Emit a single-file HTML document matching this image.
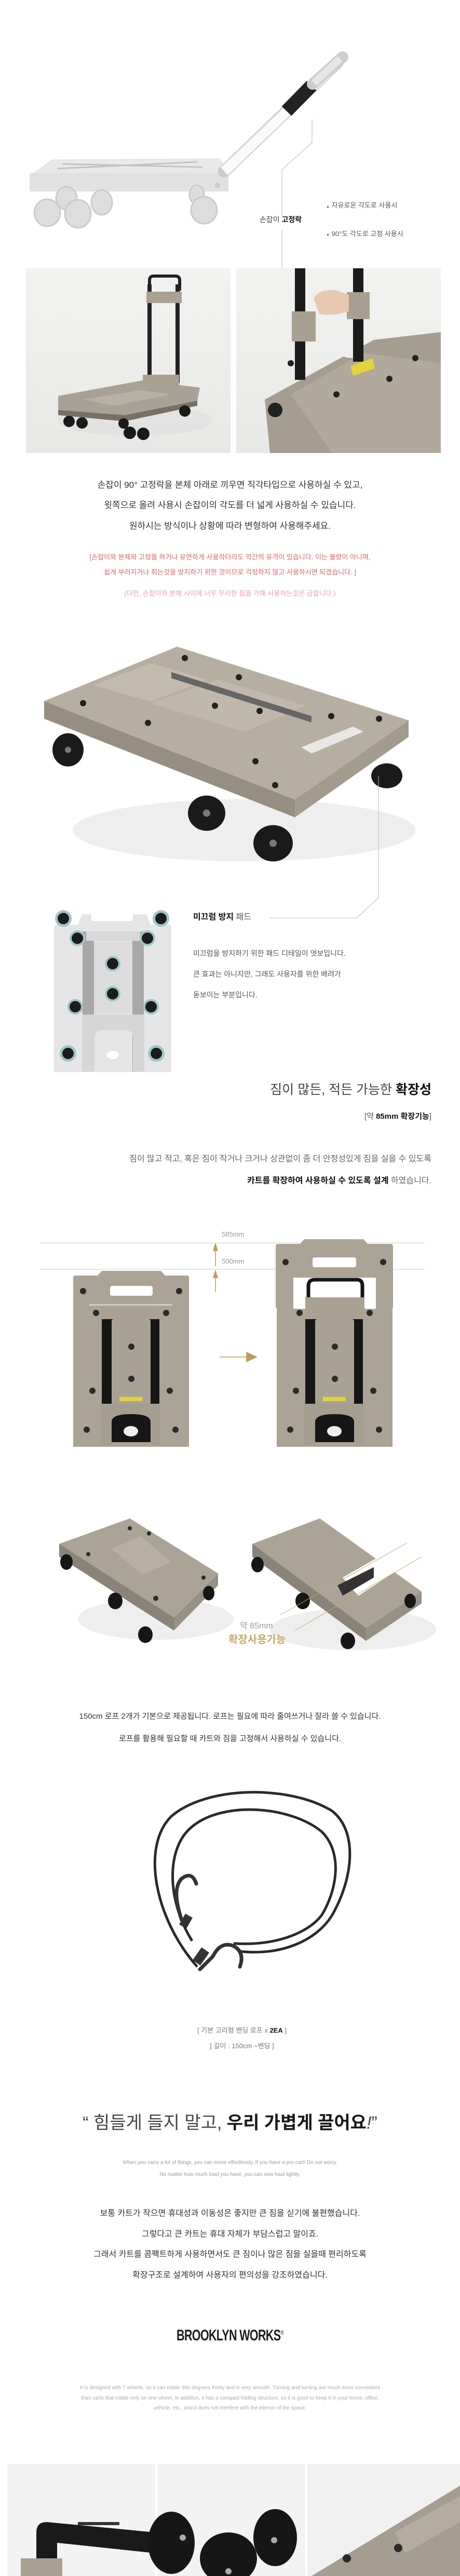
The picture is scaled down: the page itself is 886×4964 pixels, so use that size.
<!DOCTYPE html>
<html><head><meta charset="utf-8">
<style>
*{margin:0;padding:0;box-sizing:border-box}
body{width:886px;height:4964px;background:#fff;position:relative;overflow:hidden;font-family:"Liberation Sans","Noto Sans CJK KR",sans-serif;color:#333}
.t{position:absolute;white-space:nowrap;line-height:1}
.c{left:0;width:886px;text-align:center}
.r{right:55px;text-align:right}
b{font-weight:700;color:#111}
svg{position:absolute;left:0;top:0}
</style></head><body>
<svg width="886" height="4964" viewBox="0 0 886 4964">
<defs>
<linearGradient id="ph" x1="0" y1="0" x2="0" y2="1"><stop offset="0" stop-color="#f2f2f0"/><stop offset="1" stop-color="#e8e8e6"/></linearGradient>
</defs>
<!-- TOP faded cart -->
<g opacity="0.5">
<polygon points="57,340 100,308 423,306 440,333" fill="#d4d4d4" stroke="#bbb"/>
<rect x="57" y="333" width="383" height="36" fill="#c4c4c4"/>
<line x1="110" y1="325" x2="380" y2="312" stroke="#888" stroke-width="3"/>
<line x1="120" y1="316" x2="390" y2="322" stroke="#888" stroke-width="3"/>
<circle cx="419" cy="357" r="5" fill="#999"/>
<g fill="#bdbdbd" stroke="#999" stroke-width="3">
<ellipse cx="128" cy="382" rx="20" ry="22"/><ellipse cx="196" cy="390" rx="20" ry="24"/><ellipse cx="379" cy="375" rx="14" ry="18"/>
<ellipse cx="91" cy="410" rx="25" ry="26"/><ellipse cx="150" cy="412" rx="25" ry="27"/><ellipse cx="393" cy="405" rx="25" ry="26"/>
</g>
</g>
<line x1="432" y1="330" x2="650" y2="120" stroke="#ccc" stroke-width="24" stroke-linecap="round"/>
<line x1="432" y1="330" x2="650" y2="120" stroke="#fafafa" stroke-width="20"/>
<line x1="430" y1="318" x2="640" y2="118" stroke="#ddd" stroke-width="2"/>
<line x1="552" y1="214" x2="600" y2="165" stroke="#222" stroke-width="26"/>
<line x1="602" y1="162" x2="660" y2="110" stroke="#ccc" stroke-width="22" stroke-linecap="round"/>
<line x1="605" y1="160" x2="655" y2="113" stroke="#e6e6e6" stroke-width="14"/>
<polyline points="601,230 601,275 543,327 543,415" fill="none" stroke="#bbb" stroke-width="1"/>
<polyline points="543,443 543,618 557,628" fill="none" stroke="#bbb" stroke-width="1"/>
<!-- photos -->
<rect x="50" y="517" width="394" height="356" fill="url(#ph)"/>
<rect x="455" y="517" width="394" height="356" fill="url(#ph)"/>
<ellipse cx="260" cy="810" rx="150" ry="30" fill="#ddd" opacity=".6"/>
<rect x="284" y="548" width="8" height="190" fill="#222"/><rect x="338" y="548" width="8" height="190" fill="#222"/>
<path d="M288,560 V540 Q288,532 296,532 H338 Q346,532 346,540 V560" fill="none" stroke="#222" stroke-width="6"/>
<rect x="282" y="562" width="68" height="22" fill="#aaa192"/>
<polygon points="112,763 275,733 385,747 380,772 240,800 112,790" fill="#a8a195"/>
<polygon points="112,790 240,800 380,772 380,782 240,812 112,800" fill="#777066"/>
<polygon points="160,770 270,752 330,760 220,782" fill="#b7b0a3"/>
<rect x="275" y="722" width="70" height="20" fill="#aaa192"/>
<g fill="#1a1a1a"><circle cx="133" cy="812" r="11"/><circle cx="158" cy="815" r="11"/><circle cx="250" cy="834" r="12"/><circle cx="276" cy="836" r="12"/><circle cx="356" cy="792" r="11"/><circle cx="238" cy="816" r="10"/></g>
<polygon points="510,770 720,655 849,640 849,873 520,873" fill="#a49d90"/>
<polygon points="560,760 700,680 849,700 849,873 640,873" fill="#b0a99c"/>
<ellipse cx="678" cy="680" rx="22" ry="10" fill="#eee"/>
<rect x="568" y="517" width="20" height="215" fill="#1b1b1b"/><rect x="680" y="517" width="20" height="180" fill="#1b1b1b"/>
<rect x="562" y="600" width="46" height="58" fill="#a89f90"/><rect x="668" y="563" width="44" height="52" fill="#a89f90"/>
<path d="M604,575 Q615,555 650,560 L672,568 L672,600 Q640,610 615,605 Z" fill="#e9c8b0"/>
<polygon points="675,705 718,690 722,710 680,724" fill="#e6d23a"/>
<g fill="#222"><circle cx="560" cy="700" r="6"/><circle cx="648" cy="760" r="6"/><circle cx="750" cy="730" r="6"/><circle cx="800" cy="690" r="6"/><circle cx="530" cy="790" r="14"/></g>
<!-- big cart -->
<ellipse cx="470" cy="1600" rx="330" ry="60" fill="#eee"/>
<polygon points="85,1351 341,1246 787,1388 568,1541" fill="#b6afa1"/>
<polygon points="85,1351 568,1541 568,1575 85,1385" fill="#958e81"/>
<polygon points="568,1541 787,1388 787,1420 568,1575" fill="#a29b8e"/>
<polygon points="180,1320 290,1278 400,1310 290,1352" fill="#c3bcae"/>
<polygon points="290,1355 420,1310 590,1360 470,1410" fill="#c0b9ab"/>
<polygon points="330,1295 600,1380 600,1392 330,1307" fill="#666"/>
<polygon points="580,1440 680,1400 700,1410 600,1452" fill="#fff" opacity=".7"/>
<g fill="#222"><circle cx="160" cy="1355" r="6"/><circle cx="285" cy="1393" r="6"/><circle cx="356" cy="1268" r="6"/><circle cx="460" cy="1305" r="6"/><circle cx="414" cy="1360" r="6"/><circle cx="500" cy="1370" r="6"/><circle cx="638" cy="1380" r="6"/><circle cx="730" cy="1385" r="6"/><circle cx="530" cy="1513" r="6"/><circle cx="492" cy="1467" r="6"/></g>
<g fill="#1a1a1a"><ellipse cx="131" cy="1445" rx="30" ry="32"/><ellipse cx="398" cy="1567" rx="36" ry="34"/><ellipse cx="526" cy="1625" rx="38" ry="35"/><ellipse cx="745" cy="1495" rx="30" ry="24"/></g>
<g fill="#777"><circle cx="131" cy="1445" r="6"/><circle cx="398" cy="1567" r="7"/><circle cx="526" cy="1625" r="7"/></g>
<polyline points="729,1495 729,1730 687,1769 520,1769" fill="none" stroke="#bbb" stroke-width="1"/>
<!-- pad board -->
<path d="M104,1788 Q104,1782 110,1782 H150 L158,1762 H282 L290,1782 H326 Q330,1782 330,1788 V2066 H104 Z" fill="#e5e5e5"/>
<rect x="176" y="1757" width="80" height="18" rx="4" fill="#fff"/>
<rect x="159" y="1795" width="22" height="270" fill="#a8a8a8"/><rect x="255" y="1795" width="22" height="270" fill="#a8a8a8"/>
<rect x="166" y="1795" width="104" height="18" fill="#d8d8d8"/>
<rect x="181" y="1815" width="74" height="138" fill="#dcdcdc"/>
<path d="M158,1955 H278 V2065 H256 V2000 Q256,1985 240,1985 H196 Q182,1985 182,2000 V2065 H158 Z" fill="#d6d6d6"/>
<ellipse cx="217" cy="2033" rx="12" ry="8" fill="#fff"/>
<g fill="#9fc6c6"><circle cx="122" cy="1770" r="16"/><circle cx="310" cy="1770" r="16"/><circle cx="149" cy="1808" r="15"/><circle cx="284" cy="1808" r="15"/><circle cx="217" cy="1857" r="15"/><circle cx="217" cy="1915" r="15"/><circle cx="145" cy="1940" r="15"/><circle cx="291" cy="1940" r="15"/><circle cx="131" cy="2030" r="16"/><circle cx="301" cy="2030" r="16"/></g>
<g fill="#1c1c1c"><circle cx="122" cy="1770" r="11"/><circle cx="310" cy="1770" r="11"/><circle cx="149" cy="1808" r="11"/><circle cx="284" cy="1808" r="11"/><circle cx="217" cy="1857" r="11"/><circle cx="217" cy="1915" r="11"/><circle cx="145" cy="1940" r="11"/><circle cx="291" cy="1940" r="11"/><circle cx="131" cy="2030" r="11"/><circle cx="301" cy="2030" r="11"/></g>
<!-- extension diagram -->
<line x1="77" y1="2395" x2="818" y2="2395" stroke="#ccc"/>
<line x1="77" y1="2446" x2="818" y2="2446" stroke="#ccc"/>
<g stroke="#b89c5a" stroke-width="1.5" fill="#b89c5a"><line x1="415" y1="2405" x2="415" y2="2440"/><polygon points="411,2410 415,2397 419,2410"/><line x1="415" y1="2455" x2="415" y2="2490"/><polygon points="411,2462 415,2449 419,2462"/><line x1="423" y1="2615" x2="490" y2="2615"/><polygon points="475,2606 494,2615 475,2624"/></g>
<g id="bd">
<path d="M141,2462 Q141,2458 146,2458 H188 L196,2449 H310 L318,2458 H360 Q364,2458 364,2462 V2788 H141 Z" fill="#aaa396"/>
<rect x="212" y="2478" width="82" height="19" rx="4" fill="#fff"/>
<rect x="172" y="2513" width="160" height="3" fill="#ccc"/>
<rect x="196" y="2517" width="111" height="262" fill="#161616"/>
<rect x="196" y="2517" width="111" height="25" fill="#aaa192"/>
<rect x="215" y="2542" width="75" height="165" rx="4" fill="#a9a294"/>
<rect x="230" y="2692" width="44" height="8" fill="#e4d23c"/>
<path d="M194,2705 H309 V2785 H290 V2740 Q290,2725 252,2725 Q215,2725 215,2740 V2785 H194 Z" fill="#a59e90"/>
<ellipse cx="252" cy="2758" rx="14" ry="10" fill="#eee"/>
<g fill="#2a2a2a"><circle cx="160" cy="2488" r="6"/><circle cx="345" cy="2488" r="6"/><circle cx="185" cy="2530" r="6"/><circle cx="320" cy="2530" r="6"/><circle cx="253" cy="2595" r="6"/><circle cx="253" cy="2657" r="6"/><circle cx="178" cy="2680" r="6"/><circle cx="327" cy="2680" r="6"/><circle cx="167" cy="2755" r="6"/><circle cx="338" cy="2755" r="6"/></g>
</g>
<use href="#bd" transform="translate(392,0)"/>
<path d="M531,2402 Q531,2397 536,2397 H578 L586,2388 H700 L708,2397 H752 Q757,2397 757,2402 V2460 H531 Z" fill="#aaa396"/>
<rect x="531" y="2440" width="226" height="80" fill="#aaa396"/>
<rect x="602" y="2423" width="84" height="19" rx="4" fill="#fff"/>
<rect x="565" y="2462" width="159" height="60" fill="#fff"/>
<path d="M594,2520 V2478 Q594,2466 606,2466 H688 Q698,2466 698,2478 V2520" fill="none" stroke="#161616" stroke-width="7"/>
<rect x="588" y="2500" width="114" height="22" fill="#aaa192"/>
<g fill="#2a2a2a"><circle cx="550" cy="2432" r="6"/><circle cx="738" cy="2432" r="6"/></g>
<!-- perspective carts -->
<ellipse cx="300" cy="3120" rx="150" ry="40" fill="#eee"/>
<polygon points="250,2926 114,2975 335,3117 420,3032" fill="#aba496"/>
<polygon points="114,2975 335,3117 335,3142 114,3000" fill="#8a8377"/>
<polygon points="335,3117 420,3032 420,3055 335,3142" fill="#979084"/>
<polygon points="215,2985 270,2960 330,3010 275,3035" fill="#b7b0a2"/>
<g fill="#161616"><ellipse cx="128" cy="3010" rx="12" ry="15"/><ellipse cx="222" cy="3085" rx="14" ry="16"/><ellipse cx="280" cy="3150" rx="14" ry="16"/><ellipse cx="402" cy="3070" rx="11" ry="14"/></g>
<g fill="#2a2a2a"><circle cx="250" cy="2945" r="4"/><circle cx="287" cy="2955" r="4"/><circle cx="170" cy="2995" r="4"/><circle cx="300" cy="3080" r="5"/><circle cx="392" cy="3040" r="4"/></g>
<ellipse cx="680" cy="3140" rx="160" ry="40" fill="#eee"/>
<polygon points="616,2926 486,2975 705,3137 812,3067" fill="#aba496"/>
<polygon points="486,2975 705,3137 705,3162 486,3000" fill="#8a8377"/>
<polygon points="705,3137 812,3067 812,3090 705,3162" fill="#979084"/>
<polygon points="660,3040 730,3000 760,3030 690,3075" fill="#fff"/>
<polygon points="650,3055 720,3020 720,3040 660,3075" fill="#333"/>
<g fill="#161616"><ellipse cx="496" cy="3015" rx="12" ry="15"/><ellipse cx="583" cy="3085" rx="14" ry="16"/><ellipse cx="670" cy="3162" rx="14" ry="16"/><ellipse cx="790" cy="3085" rx="11" ry="14"/></g>
<g stroke="#c8a96a" stroke-width="1"><line x1="540" y1="3112" x2="784" y2="2973"/><line x1="568" y1="3142" x2="812" y2="3000"/></g>
<!-- rope -->
<g fill="none" stroke="#2a2a2a" stroke-width="5">
<path d="M380,3790 C300,3700 270,3560 330,3500 C400,3440 560,3440 640,3490 C690,3530 680,3620 640,3690 C610,3740 540,3770 460,3760"/>
<path d="M370,3740 C320,3660 320,3560 370,3520 C430,3470 560,3480 620,3530 C660,3570 650,3640 620,3690 C590,3730 520,3750 450,3745"/>
</g>
<g fill="none" stroke="#333" stroke-width="7" stroke-linecap="round">
<path d="M385,3795 L410,3770 Q425,3740 450,3750 Q472,3762 462,3790"/>
<path d="M350,3700 Q330,3640 350,3620 Q370,3605 378,3630"/>
</g>
<rect x="378" y="3755" width="18" height="30" fill="#333" transform="rotate(35 387 3770)"/>
<rect x="350" y="3690" width="16" height="24" fill="#333" transform="rotate(30 358 3702)"/>
<!-- bottom photos -->
<rect x="14" y="4748" width="285" height="216" fill="#f3f3f3"/>
<rect x="303" y="4748" width="285" height="216" fill="#f3f3f3"/>
<rect x="592" y="4748" width="294" height="216" fill="#f1f1f1"/>
<path d="M70,4964 V4880 Q70,4860 90,4860 L299,4880 V4920 L110,4900 V4964 Z" fill="#1a1a1a"/>
<rect x="150" y="4860" width="80" height="6" fill="#333"/>
<rect x="40" y="4930" width="80" height="34" fill="#aaa192"/>
<g fill="#161616"><ellipse cx="330" cy="4900" rx="45" ry="60"/><ellipse cx="530" cy="4890" rx="42" ry="55"/><ellipse cx="440" cy="4930" rx="55" ry="50"/></g>
<g fill="#aaa"><circle cx="352" cy="4890" r="6"/><circle cx="528" cy="4895" r="6"/><circle cx="440" cy="4955" r="6"/></g>
<polygon points="600,4964 886,4790 886,4964" fill="#a49d90"/>
<polygon points="760,4880 886,4810 886,4860 780,4920" fill="#b4ad9f"/>
<g fill="#2a2a2a"><circle cx="668" cy="4930" r="8"/><circle cx="767" cy="4910" r="8"/></g>
</svg>

<div class="t" style="left:500px;top:416px;font-size:14px;color:#444">손잡이 <b>고정락</b></div>
<div class="t" style="left:628px;top:389px;font-size:13px;color:#555"><span style="font-size:7px">▲</span> 자유로운 각도로 사용시</div>
<div class="t" style="left:628px;top:444px;font-size:13px;color:#555"><span style="font-size:7px">▼</span> 90°도 각도로 고정 사용시</div>

<div class="t c" style="top:926px;font-size:17px;color:#333">손잡이 90° 고정락을 본체 아래로 끼우면 직각타입으로 사용하실 수 있고,</div>
<div class="t c" style="top:965px;font-size:17px;color:#333">윗쪽으로 올려 사용시 손잡이의 각도를 더 넓게 사용하실 수 있습니다.</div>
<div class="t c" style="top:1005px;font-size:17px;color:#333">원하시는 방식이나 상황에 따라 변형하여 사용해주세요.</div>
<div class="t c" style="top:1067px;font-size:13px;color:#e0606a">[손잡이와 본체와 고정을 하거나 유연하게 사용하더라도 약간의 유격이 있습니다. 이는 불량이 아니며,</div>
<div class="t c" style="top:1096px;font-size:13px;color:#e0606a">쉽게 부러지거나 휘는것을 방지하기 위한 것이므로 걱정하지 않고 사용하시면 되겠습니다. ]</div>
<div class="t c" style="top:1137px;font-size:13px;color:#eba0a4">(다만, 손잡이와 본체 사이에 너무 무리한 힘을 가해 사용하는것은 금합니다.)</div>

<div class="t" style="left:372px;top:1760px;font-size:16px;color:#555"><b>미끄럼 방지</b> 패드</div>
<div class="t" style="left:372px;top:1830px;font-size:14px;color:#555">미끄럼을 방지하기 위한 패드 디테일이 엿보입니다.</div>
<div class="t" style="left:372px;top:1870px;font-size:14px;color:#555">큰 효과는 아니지만, 그래도 사용자를 위한 배려가</div>
<div class="t" style="left:372px;top:1910px;font-size:14px;color:#555">돋보이는 부분입니다.</div>

<div class="t r" style="top:2088px;font-size:25px;color:#444">짐이 많든, 적든 가능한 <b>확장성</b></div>
<div class="t r" style="top:2144px;font-size:15px;color:#555">[약 <b style="font-weight:600">85mm 확장기능</b>]</div>
<div class="t r" style="top:2226px;font-size:16px;color:#666">짐이 많고 적고, 혹은 짐이 작거나 크거나 상관없이 좀 더 안정성있게 짐을 실을 수 있도록</div>
<div class="t r" style="top:2268px;font-size:16px;color:#666"><b>카트를 확장하여 사용하실 수 있도록 설계</b> 하였습니다.</div>
<div class="t" style="left:427px;top:2372px;font-size:13px;color:#999">585mm</div>
<div class="t" style="left:427px;top:2424px;font-size:13px;color:#999">500mm</div>

<div class="t" style="left:462px;top:3126px;font-size:16px;color:#999">약 85mm</div>
<div class="t" style="left:440px;top:3150px;font-size:20px;font-weight:700;color:#c8a96a">확장사용가능</div>

<div class="t c" style="top:3300px;font-size:15px;color:#333">150cm 로프 2개가 기본으로 제공됩니다. 로프는 필요에 따라 줄여쓰거나 잘라 쓸 수 있습니다.</div>
<div class="t c" style="top:3343px;font-size:15px;color:#333">로프를 활용해 필요할 때 카트와 짐을 고정해서 사용하실 수 있습니다.</div>

<div class="t" style="left:0;width:932px;text-align:center;top:3906px;font-size:13px;color:#777">[ 기본 고리형 밴딩 로프 x <b>2EA</b> ]</div>
<div class="t" style="left:0;width:932px;text-align:center;top:3936px;font-size:13px;color:#777">[ 길이 : 150cm ~밴딩 ]</div>

<div class="t c" style="top:4074px;font-size:34px;color:#444">“ 힘들게 들지 말고, <b style="font-weight:700;color:#1a1a1a">우리 가볍게 끌어요</b><i>!</i>”</div>
<div class="t c" style="top:4163px;font-size:10px;color:#999">When you carry a lot of things, you can move effortlessly. If you have a pro cart! Do not worry.</div>
<div class="t c" style="top:4186px;font-size:10px;color:#999">No matter how much load you have, you can now haul lightly.</div>
<div class="t c" style="top:4258px;font-size:16px;color:#333">보통 카트가 작으면 휴대성과 이동성은 좋지만 큰 짐을 싣기에 불편했습니다.</div>
<div class="t c" style="top:4298px;font-size:16px;color:#333">그렇다고 큰 카트는 휴대 자체가 부담스럽고 말이죠.</div>
<div class="t c" style="top:4337px;font-size:16px;color:#333">그래서 카트를 콤팩트하게 사용하면서도 큰 짐이나 많은 짐을 실을때 편리하도록</div>
<div class="t c" style="top:4377px;font-size:16px;color:#333">확장구조로 설계하여 사용자의 편의성을 강조하였습니다.</div>

<div class="t c" style="top:4486px;font-size:30px;font-weight:700;color:#231a1a;transform:scaleX(0.72);letter-spacing:-1px">BROOKLYN WORKS<sup style="font-size:12px;font-weight:400">®</sup></div>
<div class="t c" style="top:4597px;font-size:10px;color:#aaa">It is designed with 7 wheels, so it can rotate 360 degrees freely and is very smooth. Turning and turning are much more convenient</div>
<div class="t c" style="top:4617px;font-size:10px;color:#aaa">than carts that rotate only on one wheel. In addition, it has a compact folding structure, so it is good to keep it in your home, office,</div>
<div class="t c" style="top:4636px;font-size:10px;color:#aaa">vehicle, etc., and it does not interfere with the interior of the space.</div>
</body></html>
